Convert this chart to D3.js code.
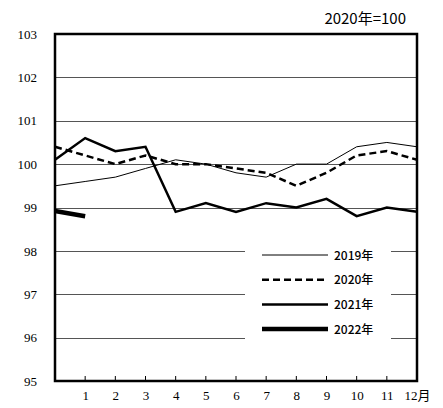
<!DOCTYPE html>
<html>
<head>
<meta charset="utf-8">
<script src="https://cdn.jsdelivr.net/npm/d3@7"></script>
<style>
  body { margin: 0; background: #fff; }
  svg { display: block; }
</style>
</head>
<body>
<div id="chart"></div>
<script>
// Monthly index, 2020 = 100. Position 0 is the left edge, 1..12 are months
const positions = [0, 1, 2, 3, 4, 5, 6, 7, 8, 9, 10, 11, 12];
const yTicks = [95, 96, 97, 98, 99, 100, 101, 102, 103];
const xTickLabels = ["1", "2", "3", "4", "5", "6", "7", "8", "9", "10", "11", "12月"];

const values2019 = [99.5, 99.6, 99.7, 99.9, 100.1, 100.0, 99.8, 99.7, 100.0, 100.0, 100.4, 100.5, 100.4];
const values2020 = [100.4, 100.2, 100.0, 100.2, 100.0, 100.0, 99.9, 99.8, 99.5, 99.8, 100.2, 100.3, 100.1];
const values2021 = [100.1, 100.6, 100.3, 100.4, 98.9, 99.1, 98.9, 99.1, 99.0, 99.2, 98.8, 99.0, 98.9];
const values2022 = [98.92, 98.8];

const seriesList = [
    { name: "2019年", values: values2019, width: 1, dash: null },
    { name: "2020年", values: values2020, width: 2.5, dash: "7,4" },
    { name: "2021年", values: values2021, width: 2.5, dash: null },
    { name: "2022年", values: values2022, width: 4.5, dash: null }
];

const W = 443, H = 408;
const plot = { left: 55, right: 417, top: 34, bottom: 381 };

const svg = d3.select("#chart")
    .append("svg")
    .attr("width", W)
    .attr("height", H);

const x = d3.scaleLinear().domain([0, 12]).range([plot.left, plot.right]);
const y = d3.scaleLinear().domain([95, 103]).range([plot.bottom, plot.top]);

// Gridlines
svg.append("g")
    .selectAll("line")
    .data(yTicks.filter(v => v > 95 && v < 103))
    .enter()
    .append("line")
    .attr("x1", plot.left)
    .attr("x2", plot.right)
    .attr("y1", d => Math.round(y(d)) + 0.5)
    .attr("y2", d => Math.round(y(d)) + 0.5)
    .attr("stroke", "#555")
    .attr("stroke-width", 1);

// Lines
const line = d3.line()
    .x((d, i) => x(positions[i]))
    .y(d => y(d));

svg.append("g")
    .selectAll("path")
    .data(seriesList)
    .enter()
    .append("path")
    .attr("d", d => line(d.values))
    .attr("fill", "none")
    .attr("stroke", "#000")
    .attr("stroke-width", d => d.width)
    .attr("stroke-dasharray", d => d.dash)
    .attr("stroke-linejoin", "miter");

// Legend box (white, hides gridlines)
const legend = svg.append("g");
legend.append("rect")
    .attr("x", 245)
    .attr("y", 240)
    .attr("width", 146)
    .attr("height", 104)
    .attr("fill", "#fff");

seriesList.forEach((s, i) => {
    const ly = 255 + i * 24.7;
    legend.append("line")
        .attr("x1", 262)
        .attr("x2", 328)
        .attr("y1", ly)
        .attr("y2", ly)
        .attr("stroke", "#000")
        .attr("stroke-width", s.width)
        .attr("stroke-dasharray", s.dash);
    legend.append("text")
        .attr("x", 334)
        .attr("y", ly + 4.5)
        .attr("font-family", "'Noto Sans CJK JP', 'Noto Sans', sans-serif")
        .attr("font-size", 12)
        .attr("font-weight", 500)
        .text(s.name);
});

// X axis ticks (inward) and labels
const xAxis = d3.axisBottom(x)
    .tickValues(d3.range(1, 13))
    .tickSize(0)
    .tickPadding(10)
    .tickFormat((d, i) => xTickLabels[i]);

const gx = svg.append("g")
    .attr("transform", `translate(0,${plot.bottom})`)
    .call(xAxis);
gx.select(".domain").remove();
gx.selectAll("text")
    .style("font-family", "'Liberation Serif', 'Noto Sans CJK JP', serif")
    .attr("font-size", 13)
    .attr("fill", "#000");

svg.append("g")
    .selectAll("line")
    .data(d3.range(1, 12))
    .enter()
    .append("line")
    .attr("x1", d => x(d))
    .attr("x2", d => x(d))
    .attr("y1", plot.bottom)
    .attr("y2", plot.bottom - 5)
    .attr("stroke", "#000")
    .attr("stroke-width", 1);

// Y axis labels
const yAxis = d3.axisLeft(y)
    .tickValues(yTicks)
    .tickSize(0)
    .tickPadding(18);

const gy = svg.append("g")
    .attr("transform", `translate(${plot.left},0)`)
    .call(yAxis);
gy.select(".domain").remove();
gy.selectAll("text")
    .style("font-family", "'Liberation Serif', serif")
    .attr("font-size", 13)
    .attr("fill", "#000");

// Plot frame
svg.append("rect")
    .attr("x", plot.left)
    .attr("y", plot.top)
    .attr("width", plot.right - plot.left)
    .attr("height", plot.bottom - plot.top)
    .attr("fill", "none")
    .attr("stroke", "#000")
    .attr("stroke-width", 2.5);

// Unit note
svg.append("text")
    .attr("x", 406)
    .attr("y", 24)
    .attr("text-anchor", "end")
    .attr("font-family", "'Noto Sans CJK JP', 'Noto Sans', sans-serif")
    .attr("font-size", 15)
    .text("2020年=100");
</script>
</body>
</html>
